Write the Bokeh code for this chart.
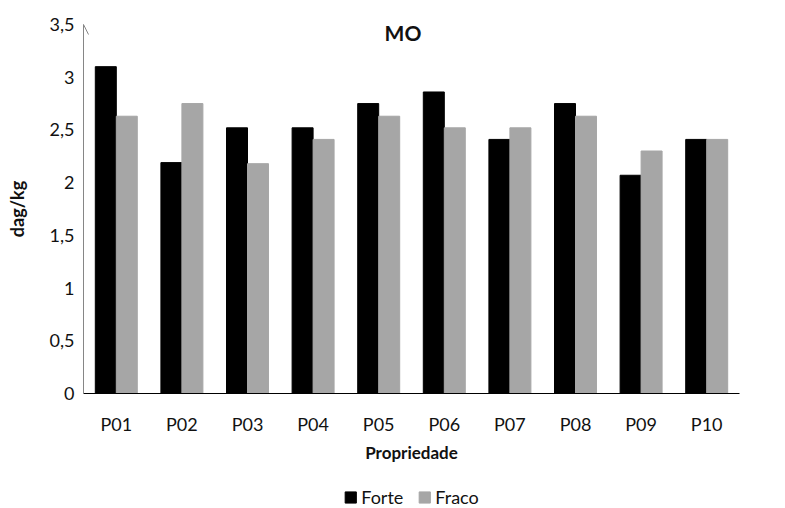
from bokeh.plotting import figure
from bokeh.layouts import column
from bokeh.models import (ColumnDataSource, FactorRange, FixedTicker, Legend,
                          LegendItem, Arrow, OpenHead, Label, Range1d)
from bokeh.transform import dodge
from bokeh.embed import file_html
from bokeh.resources import INLINE

# Organic matter (MO) per property, two management classes
properties = ["P01", "P02", "P03", "P04", "P05", "P06", "P07", "P08", "P09", "P10"]
forte = [3.10, 2.19, 2.52, 2.52, 2.75, 2.86, 2.41, 2.75, 2.07, 2.41]
fraco = [2.63, 2.75, 2.18, 2.41, 2.63, 2.52, 2.52, 2.63, 2.30, 2.41]
series = ["Forte", "Fraco"]
colors = ["#000000", "#a6a6a6"]

y_ticks = [0, 0.5, 1, 1.5, 2, 2.5, 3, 3.5]
y_tick_labels = ["0", "0,5", "1", "1,5", "2", "2,5", "3", "3,5"]

FONT = "Lato"
TXT = "#111111"

source = ColumnDataSource(data=dict(prop=properties, forte=forte, fraco=fraco))

p = figure(width=785, height=466, x_range=FactorRange(factors=properties, range_padding=0),
           y_range=(0, 3.5), output_backend="svg", toolbar_location=None,
           min_border_left=83, min_border_right=46, min_border_top=24, min_border_bottom=73)
p.outline_line_color = None
p.grid.visible = False
p.background_fill_color = "white"

p.vbar(x=dodge("prop", -0.16, range=p.x_range), top="forte", width=0.32,
       source=source, fill_color=colors[0], line_color=colors[0])
p.vbar(x=dodge("prop", 0.16, range=p.x_range), top="fraco", width=0.32,
       source=source, fill_color=colors[1], line_color=colors[1])

# y axis
yax = p.yaxis[0]
yax.ticker = FixedTicker(ticks=y_ticks)
yax.major_label_overrides = {t: s for t, s in zip(y_ticks, y_tick_labels)}
yax.major_tick_line_color = None
yax.minor_tick_line_color = None
yax.major_tick_out = 0
yax.major_label_standoff = 9
yax.axis_line_color = "#868686"
yax.major_label_text_font = FONT
yax.major_label_text_font_size = "18px"
yax.major_label_text_color = TXT
yax.axis_label = "dag/kg"
yax.axis_label_text_font = FONT
yax.axis_label_text_font_size = "18px"
yax.axis_label_text_font_style = "bold"
yax.axis_label_text_color = TXT
yax.axis_label_standoff = 19

# x axis
xax = p.xaxis[0]
xax.major_tick_line_color = None
xax.major_tick_out = 0
xax.major_label_standoff = 19
xax.axis_line_color = "#000000"
xax.major_label_text_font = FONT
xax.major_label_text_font_size = "18px"
xax.major_label_text_color = TXT
xax.axis_label = "Propriedade"
xax.axis_label_text_font = FONT
xax.axis_label_text_font_size = "17px"
xax.axis_label_text_font_style = "bold"
xax.axis_label_text_color = TXT
xax.axis_label_standoff = 4

# arrowhead at the top of the value axis
p.add_layout(Arrow(end=OpenHead(size=10, line_color="#868686", line_width=1),
                   x_start=0, y_start=3.3, x_end=0, y_end=3.5,
                   line_color="#868686", line_width=1))

# chart title inside the plot area
p.add_layout(Label(x=4.87, y=3.42, text="MO", text_font=FONT, text_font_size="21px",
                   text_font_style="bold", text_align="center", text_baseline="middle",
                   text_color=TXT))

# legend strip underneath the chart; its swatch glyphs sit outside the visible range
leg = figure(width=785, height=42, x_range=Range1d(0, 1), y_range=Range1d(0, 1),
             output_backend="svg", toolbar_location=None,
             min_border_left=6, min_border_right=0, min_border_top=0, min_border_bottom=0)
leg.axis.visible = False
leg.grid.visible = False
leg.outline_line_color = None
items = []
for name, col in zip(series, colors):
    r = leg.quad(left=[-3], right=[-2], bottom=[-3], top=[-2],
                 fill_color=col, line_color=col)
    items.append(LegendItem(label=name, renderers=[r]))
legend = Legend(items=items, orientation="horizontal", location="bottom_center",
                label_text_font=FONT, label_text_font_size="18px", label_text_color=TXT,
                glyph_width=14, glyph_height=14, spacing=14, label_standoff=4,
                border_line_color=None, background_fill_alpha=0,
                padding=2, margin=0)
leg.add_layout(legend)

open("out.html", "w").write(file_html(column(p, leg, spacing=0), INLINE))
